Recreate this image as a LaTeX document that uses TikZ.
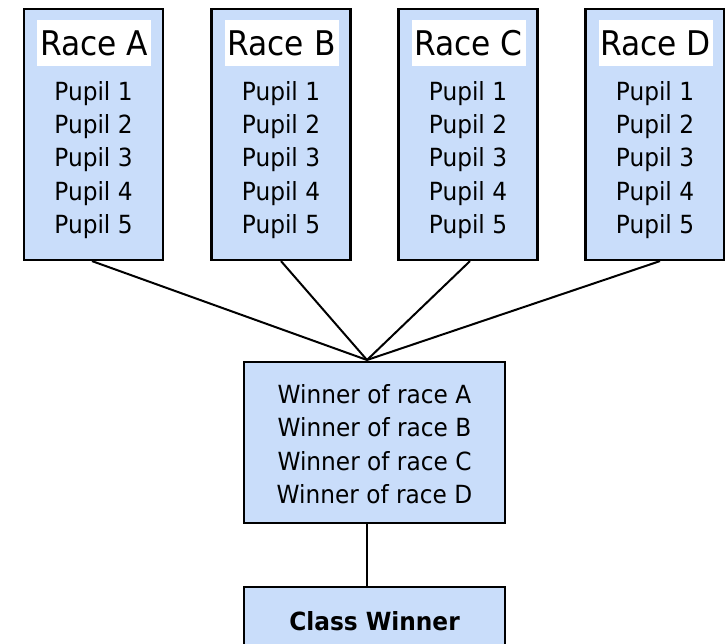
\documentclass[tikz,border=0pt]{standalone}
\usepackage{fontspec}
\setmainfont[FakeStretch=0.93]{DejaVu Sans}
\newfontfamily\racefont[FakeStretch=0.92]{DejaVu Sans}
\definecolor{boxblue}{RGB}{201,221,250}
\tikzset{
  racebox/.style={draw=black, line width=2.2pt, fill=boxblue, minimum width=139pt, minimum height=251pt, inner sep=0pt},
  bigbox/.style={draw=black, line width=2.2pt, fill=boxblue, minimum width=261pt, minimum height=161pt, inner sep=0pt},
  hdr/.style={fill=white, minimum width=114pt, minimum height=46pt, inner sep=0pt, font=\racefont\fontsize{34}{40}\selectfont},
  txt/.style={align=center, inner sep=0pt, font=\fontsize{25}{33.4}\selectfont},
  conn/.style={draw=black, line width=2pt},
}
\begin{document}
\begin{tikzpicture}[x=1pt,y=1pt]
\useasboundingbox (0,0) rectangle (725,644);
\clip (0,0) rectangle (725,644);
% race boxes
\foreach \n/\lab/\cx in {a/A/93.5, b/B/281, c/C/468, d/D/655} {
  \node[racebox] (\n) at (\cx,509.5) {};
  \node[hdr] (\n h) at (\cx+0.5,601) {Race \lab};
  \node[txt] (\n t) at (\cx,484) {Pupil 1\\Pupil 2\\Pupil 3\\Pupil 4\\Pupil 5};
}
% middle box
\node[bigbox] (mid) at (374.5,201.5) {};
\node[txt] (midt) at (374.5,200) {Winner of race A\\Winner of race B\\Winner of race C\\Winner of race D};
% class winner box
\node[bigbox, minimum height=100pt] (cw) at (374.5,7) {};
\node[txt, font=\fontsize{25}{28}\selectfont\bfseries] (cwt) at (374.5,23) {Class Winner};
% convergence point
\coordinate (conv) at (367,284);
\draw[conn] ([xshift=-1.5pt]a.south) -- (conv);
\draw[conn] (b.south) -- (conv);
\draw[conn] ([xshift=2pt]c.south) -- (conv);
\draw[conn] ([xshift=5pt]d.south) -- (conv);
\draw[conn] (mid.south -| conv) -- (cw.north -| conv);
\end{tikzpicture}
\end{document}
